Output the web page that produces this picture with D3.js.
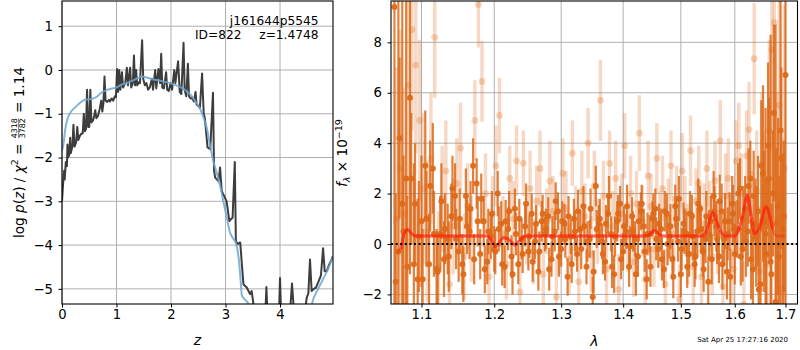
<!DOCTYPE html>
<html><head><meta charset="utf-8">
<script src="https://cdn.jsdelivr.net/npm/d3@7"></script>
<style>
body{margin:0;background:#fff}
svg{display:block}
text{font-family:"DejaVu Sans",sans-serif;fill:#000}
</style>
</head><body>
<svg id="c" width="800" height="350"></svg>
<script>
// ---------------- DATA ----------------
// left panel: log p(z)
const zGrid = [0.00,0.02,0.04,0.05,0.07,0.09,0.10,0.11,0.13,0.15,0.16,0.19,0.21,0.23,0.26,0.28,0.30,0.33,0.36,0.38,
0.40,0.42,0.44,0.46,0.48,0.50,0.52,0.54,0.57,0.59,0.61,0.63,0.66,0.69,0.72,0.74,0.76,0.78,0.80,0.83,
0.86,0.88,0.91,0.94,0.97,0.99,1.01,1.03,1.05,1.07,1.10,1.12,1.14,1.16,1.19,1.21,1.25,1.27,1.30,1.32,
1.34,1.36,1.38,1.41,1.43,1.47,1.49,1.52,1.55,1.58,1.61,1.65,1.67,1.71,1.73,1.77,1.80,1.82,1.84,1.87,
1.91,1.93,1.96,1.99,2.02,2.06,2.08,2.13,2.16,2.19,2.23,2.25,2.28,2.31,2.33,2.36,2.38,2.42,2.45,2.47,
2.53,2.57,2.60,2.62,2.67,2.72,2.77,2.79,2.81,2.87,2.90,2.93,2.96,3.02,3.07,3.13,3.17,3.19,3.22,3.27,
3.30,3.33,3.39,3.45,3.48,3.54,3.60,3.68,3.73,3.75,3.77,3.85,3.98,4.00,4.02,4.18,4.22,4.26,4.45,4.49,
4.52,4.55,4.58,4.62,4.66,4.70,4.75,4.79,4.82,4.86,4.90,4.94,4.97];
const logPz = [-3.0,-2.6,-2.3,-2.5,-2.1,-2.2,-1.7,-2.0,-1.95,-1.55,-1.9,-1.75,-1.25,-1.75,-1.65,-1.3,-1.6,-1.5,-1.45,-1.45,
-1.0,-1.4,-1.35,-0.45,-1.3,-1.3,-0.45,-1.2,-1.15,-1.05,-0.92,-1.1,-1.05,-0.9,-0.7,-0.95,-0.75,-0.15,-0.7,-0.73,
-0.68,-0.72,-0.65,-0.7,-0.6,-0.62,0.02,-0.5,0.0,-0.45,-0.05,-0.4,-0.35,-0.3,0.05,-0.35,0.05,-0.4,-0.3,0.33,
-0.35,0.0,-0.35,-0.28,-0.3,0.68,-0.2,-0.35,-0.3,-0.45,-0.4,-0.2,-0.45,0.0,-0.42,0.02,-0.3,0.37,-0.4,-0.42,
-0.05,-0.45,-0.48,-0.3,-0.45,0.0,-0.3,0.2,-0.5,-0.55,0.62,-0.45,-0.6,0.14,-0.6,-0.65,-0.63,-0.72,-0.5,-0.79,
-0.86,-0.08,-1.0,-1.09,-1.77,-1.81,-0.52,-2.3,-2.46,-2.54,-2.23,-2.76,-2.84,-3.0,-3.45,-3.37,-2.1,-3.9,-3.98,-3.94,
-4.44,-4.9,-4.97,-5.12,-5.05,-5.6,-5.5,-5.6,-5.6,-4.96,-5.6,-5.6,-5.6,-4.75,-5.6,-5.6,-4.88,-5.6,-5.6,-5.2,
-5.1,-4.33,-5.05,-5.0,-4.97,-4.85,-4.7,-4.07,-4.6,-4.59,-4.45,-4.35,-4.25];
// left panel: smooth prior curve
const zPrior = [0.00,0.025,0.06,0.10,0.15,0.20,0.27,0.35,0.42,0.50,0.58,0.65,0.72,0.82,0.90,1.00,1.10,1.19,1.30,1.40,
1.46,1.55,1.65,1.74,1.85,1.98,2.10,2.20,2.30,2.38,2.46,2.53,2.60,2.66,2.72,2.78,2.85,2.92,2.96,3.02,
3.08,3.14,3.19,3.25,3.28,3.30,3.40,3.48,4.55,4.62,4.70,4.80,4.88,4.97];
const logPrior = [-1.85,-1.7,-1.35,-1.12,-0.98,-0.9,-0.82,-0.73,-0.68,-0.67,-0.65,-0.6,-0.52,-0.46,-0.43,-0.40,-0.33,-0.30,-0.24,-0.18,
-0.15,-0.17,-0.21,-0.23,-0.26,-0.30,-0.35,-0.41,-0.50,-0.60,-0.74,-0.88,-1.1,-1.35,-1.75,-2.1,-2.4,-2.75,-3.0,-3.35,
-3.7,-3.85,-3.95,-4.4,-4.85,-5.15,-5.3,-5.45,-5.45,-5.2,-5.0,-4.75,-4.55,-4.25];

// right panel: spectrum A (dark)
const waveA = [1.065,1.070,1.075,1.080,1.085,1.090,1.095,1.100,1.105,1.110,
1.115,1.120,1.125,1.130,1.135,1.140,1.145,1.150,1.155,1.160,
1.165,1.170,1.175,1.180,1.185,1.190,1.195,1.200,1.205,1.210,
1.215,1.220,1.225,1.230,1.235,1.240,1.245,1.250,1.255,1.260,
1.265,1.270,1.275,1.280,1.285,1.290,1.295,1.300,1.305,1.310,
1.315,1.320,1.325,1.330,1.335,1.340,1.345,1.350,1.355,1.360,
1.365,1.370,1.375,1.380,1.385,1.390,1.395,1.400,1.405,1.410,
1.415,1.420,1.425,1.430,1.435,1.440,1.445,1.450,1.455,1.460,
1.465,1.470,1.475,1.480,1.485,1.490,1.495,1.500,1.505,1.510,
1.515,1.520,1.525,1.530,1.535,1.540,1.545,1.550,1.555,1.560,
1.565,1.570,1.575,1.580,1.585,1.590,1.595,1.600,1.605,1.610,
1.615,1.620,1.625,1.630,1.635,1.640,1.645,1.650,1.655,1.660,
1.665,1.670,1.675,1.680,1.685,1.690,1.695,1.700];
const fluxA = [9.4,-0.3,1.6,2.6,5.8,-0.8,-1.4,0.9,3.1,-0.8,
3.0,-1.0,0.4,-0.6,0.2,1.1,1.9,-0.3,-0.8,1.9,
0.5,3.1,2.4,-0.4,0.9,-0.7,0.3,-0.2,2.0,0.8,
-0.9,0.6,-0.5,1.4,-0.8,0.2,0.7,-0.3,1.2,0.1,
-1.1,0.9,0.4,1.1,-0.6,0.5,1.3,-0.2,0.8,-1.3,
0.3,1.0,-0.4,0.6,1.5,-0.9,0.2,-2.1,2.3,0.8,
0.1,-0.7,1.2,0.4,-1.2,0.9,1.6,-0.3,0.5,-0.9,
1.1,0.2,-0.5,1.3,0.7,-1.4,0.4,1.0,1.4,-0.2,
0.6,-1.0,1.2,0.3,-0.6,1.5,0.1,-1.2,0.8,0.4,
-0.4,1.1,-0.8,0.5,1.4,-0.3,0.2,-1.5,0.9,1.9,
0.7,-0.5,1.3,0.2,-1.1,0.9,1.6,-0.4,0.6,2.2,
-0.2,1.4,0.5,2.6,-1.0,0.8,1.3,-1.6,2.8,0.4,
3.9,-0.7,2.0,-2.3,1.5,4.5,0.6,6.7];
const errA = [12,10,9,8,7,4,3.2,2.6,2.2,2.0,
1.8,1.6,1.5,1.5,1.4,1.3,1.3,1.2,1.2,1.1,
1.1,1.1,1.0,1.0,1.0,0.9,0.9,0.9,0.9,0.9,
0.85,0.85,0.85,0.8,0.8,0.8,0.8,0.75,0.8,0.7,
0.75,0.8,0.7,0.75,0.7,0.8,0.75,0.7,0.8,0.75,
0.7,0.8,0.7,0.75,0.8,0.7,0.75,0.8,0.8,0.75,
0.7,0.75,0.8,0.7,0.75,0.8,0.7,0.75,0.7,0.8,
0.75,0.7,0.8,0.75,0.7,0.8,0.75,0.7,0.8,0.75,
0.8,0.75,0.8,0.85,0.8,0.85,0.8,0.9,0.85,0.9,
0.9,0.85,0.9,0.95,0.9,1.0,0.95,1.0,1.0,1.0,
1.0,1.05,1.1,1.05,1.1,1.15,1.1,1.2,1.15,1.2,
1.3,1.3,1.4,1.5,1.6,1.8,2.2,2.6,3.5,5.0,
3.3,9,2.5,11,3.5,12,3.0,14];

// right panel: spectrum C (dark, second exposure)
const waveC = [1.0665,1.0715,1.0765,1.0815,1.0865,1.0915,1.0965,1.1015,1.1065,1.1115,
1.1165,1.1215,1.1265,1.1315,1.1365,1.1415,1.1465,1.1515,1.1565,1.1615,
1.1665,1.1715,1.1765,1.1815,1.1865,1.1915,1.1965,1.2015,1.2065,1.2115,
1.2165,1.2215,1.2265,1.2315,1.2365,1.2415,1.2465,1.2515,1.2565,1.2615,
1.2665,1.2715,1.2765,1.2815,1.2865,1.2915,1.2965,1.3015,1.3065,1.3115,
1.3165,1.3215,1.3265,1.3315,1.3365,1.3415,1.3465,1.3515,1.3565,1.3615,
1.3665,1.3715,1.3765,1.3815,1.3865,1.3915,1.3965,1.4015,1.4065,1.4115,
1.4165,1.4215,1.4265,1.4315,1.4365,1.4415,1.4465,1.4515,1.4565,1.4615,
1.4665,1.4715,1.4765,1.4815,1.4865,1.4915,1.4965,1.5015,1.5065,1.5115,
1.5165,1.5215,1.5265,1.5315,1.5365,1.5415,1.5465,1.5515,1.5565,1.5615,
1.5665,1.5715,1.5765,1.5815,1.5865,1.5915,1.5965,1.6015,1.6065,1.6115,
1.6165,1.6215,1.6265,1.6315,1.6365,1.6415,1.6465,1.6515,1.6565,1.6615,
1.6665,1.6715,1.6765,1.6815,1.6865,1.6915,1.6965];
const fluxC = [-1.5,4.2,0.5,-0.9,2.6,1.6,0.3,-1.4,1.0,2.3,
0.4,-1.1,1.7,0.6,-0.5,2.2,0.2,1.0,-1.2,0.7,
1.4,-0.6,0.9,1.8,-1.0,0.5,1.2,-0.3,0.6,-0.8,
0.9,1.3,-1.2,0.4,1.0,-0.4,1.6,0.3,-0.7,0.8,
-0.3,1.2,0.6,-1.0,0.3,1.7,-0.5,0.9,0.2,1.1,
-0.8,0.5,1.3,-0.2,0.7,0.1,1.4,-1.1,0.6,1.0,
-0.4,0.8,1.9,-0.9,0.3,1.2,-0.6,0.7,1.5,-0.1,
0.5,-1.2,0.9,1.6,-0.3,0.4,-0.9,1.2,0.2,0.8,
-0.6,1.3,0.0,0.7,-1.3,1.0,1.8,-0.2,0.5,-0.9,
1.2,0.3,-0.5,1.6,0.6,-1.0,1.1,0.4,-0.6,1.3,
0.2,1.7,-0.8,0.9,0.4,-1.3,1.2,0.6,2.0,-0.5,
1.0,0.1,2.3,-0.6,1.9,0.3,-1.8,3.1,0.9,-0.4,
2.6,-1.2,5.2,0.8,-0.5,3.4,1.1];
const errC = [3.5,3.2,3.0,2.8,2.6,2.4,2.2,2.0,1.9,1.8,
1.7,1.6,1.5,1.4,1.4,1.3,1.2,1.2,1.1,1.1,
1.1,1.0,1.0,1.0,0.95,0.9,0.9,0.9,0.9,0.85,
0.85,0.8,0.8,0.85,0.8,0.75,0.8,0.85,0.8,0.75,
0.8,0.75,0.8,0.85,0.8,0.75,0.8,0.8,0.75,0.8,
0.75,0.8,0.85,0.8,0.75,0.8,0.8,0.85,0.75,0.8,
0.8,0.75,0.8,0.85,0.8,0.75,0.8,0.8,0.85,0.8,
0.8,0.85,0.8,0.75,0.8,0.85,0.8,0.8,0.85,0.8,
0.85,0.8,0.85,0.9,0.85,0.8,0.9,0.85,0.9,0.85,
0.9,0.95,0.9,1.0,0.95,0.9,1.0,0.95,1.0,1.0,
1.0,1.05,1.0,1.1,1.05,1.1,1.15,1.1,1.2,1.15,
1.3,1.4,1.5,1.6,1.8,2.0,2.3,2.6,2.8,3.0,
3.2,2.8,3.5,3.0,3.2,3.6,3.0];

// right panel: spectrum B (light)
const waveB = [1.0675,1.0725,1.0775,1.0825,1.0875,1.0925,1.0975,1.1025,1.1075,1.1125,
1.1175,1.1225,1.1275,1.1325,1.1375,1.1425,1.1475,1.1525,1.1575,1.1625,
1.1675,1.1725,1.1775,1.1825,1.1875,1.1925,1.1975,1.2025,1.2075,1.2125,
1.2175,1.2225,1.2275,1.2325,1.2375,1.2425,1.2475,1.2525,1.2575,1.2625,
1.2675,1.2725,1.2775,1.2825,1.2875,1.2925,1.2975,1.3025,1.3075,1.3125,
1.3175,1.3225,1.3275,1.3325,1.3375,1.3425,1.3475,1.3525,1.3575,1.3625,
1.3675,1.3725,1.3775,1.3825,1.3875,1.3925,1.3975,1.4025,1.4075,1.4125,
1.4175,1.4225,1.4275,1.4325,1.4375,1.4425,1.4475,1.4525,1.4575,1.4625,
1.4675,1.4725,1.4775,1.4825,1.4875,1.4925,1.4975,1.5025,1.5075,1.5125,
1.5175,1.5225,1.5275,1.5325,1.5375,1.5425,1.5475,1.5525,1.5575,1.5625,
1.5675,1.5725,1.5775,1.5825,1.5875,1.5925,1.5975,1.6025,1.6075,1.6125,
1.6175,1.6225,1.6275,1.6325,1.6375,1.6425,1.6475,1.6525,1.6575,1.6625,
1.6675,1.6725,1.6775,1.6825,1.6875,1.6925,1.6975];
const fluxB = [1.0,3.0,1.2,6.3,8.5,7.1,4.9,2.2,0.5,3.4,
8.2,-0.9,1.8,2.9,-1.6,0.7,2.4,3.8,-0.5,1.5,
0.2,4.9,9.5,6.45,2.0,-1.3,1.2,3.1,5.1,0.4,
-0.8,2.6,1.0,3.3,-1.9,3.2,0.6,2.2,-0.3,1.7,
3.0,-1.2,0.9,2.5,1.3,-2.1,0.1,2.8,1.4,-0.6,
3.6,0.8,-1.5,2.1,1.1,4.0,-0.4,2.3,0.5,5.7,
1.9,-1.0,3.2,0.7,2.6,-1.8,1.2,3.9,0.3,2.0,
-0.7,1.6,4.4,0.9,-1.4,2.7,1.5,-0.2,3.4,0.6,
2.2,-1.6,1.0,3.1,0.4,1.8,-2.2,2.9,1.3,0.0,
3.7,-0.9,1.7,2.4,-1.3,0.8,3.0,1.1,-0.5,2.5,
0.3,4.1,-1.7,1.9,2.6,0.5,-1.0,3.3,3.9,2.0,
-2.4,3.5,4.54,0.9,7.35,2.1,-1.1,3.2,1.5,-0.8,
4.5,7.7,8.78,1.0,5.5,-1.8,3.0];
const errB = [6,5.5,5,4.5,4,3.5,3.2,3.0,2.8,2.6,
2.4,2.2,2.1,2.0,1.9,1.9,1.8,1.8,1.7,1.7,
1.7,1.6,1.7,1.6,1.6,1.5,1.5,1.6,1.5,1.5,
1.4,1.3,1.5,1.4,1.6,1.3,1.4,1.5,1.3,1.4,
1.5,1.4,1.3,1.6,1.4,1.5,1.3,1.4,1.5,1.4,
1.3,1.5,1.4,1.6,1.3,1.4,1.5,1.4,1.3,1.6,
1.4,1.5,1.3,1.4,1.5,1.4,1.6,1.3,1.4,1.5,
1.4,1.3,1.5,1.4,1.6,1.4,1.3,1.5,1.4,1.5,
1.3,1.4,1.6,1.4,1.5,1.3,1.4,1.5,1.4,1.6,
1.4,1.5,1.3,1.5,1.4,1.6,1.5,1.4,1.5,1.6,
1.5,1.6,1.5,1.7,1.6,1.5,1.7,1.6,1.7,1.6,
1.7,1.8,1.9,2.0,2.2,2.4,2.6,2.8,3.0,3.3,
3.6,4.0,4.5,5.0,5.5,6.0,6.5];

// right panel: model
const modelWave = [1.068,1.073,1.078,1.082,1.086,1.090,1.096,1.190,1.196,1.201,1.206,1.213,1.220,1.226,1.230,1.236,1.245,
1.440,1.447,1.453,1.460,1.467,1.540,1.548,1.554,1.559,1.564,1.572,1.582,1.600,1.608,1.616,1.621,1.624,1.628,
1.634,1.638,1.644,1.652,1.658,1.662,1.667,1.674,1.682,1.700];
const modelFlux = [-0.35,-0.2,0.45,0.58,0.45,0.34,0.32,0.32,0.15,-0.1,0.0,0.25,0.2,0.05,-0.04,0.1,0.32,
0.32,0.42,0.55,0.42,0.32,0.32,0.6,1.05,1.25,1.0,0.55,0.32,0.32,0.6,1.2,1.75,1.94,1.6,
0.8,0.42,0.5,0.9,1.4,1.48,1.2,0.6,0.32,0.32];

// ticks and texts
const zTicks = [0,1,2,3,4];
const pTicks = [-5,-4,-3,-2,-1,0,1];
const lamTicks = [1.1,1.2,1.3,1.4,1.5,1.6,1.7];
const fTicks = [-2,0,2,4,6,8];
const titleLines = ["j161644p5545"];
const idText = "ID=822", zText = "z=1.4748";
const chiNum = "4318", chiDen = "3782", chiVal = "1.14";
const stamp = "Sat Apr 25 17:27:16 2020";

// ---------------- DRAW ----------------
const svg = d3.select("#c");
const TICKFS = 13.2;
const gridCol = "#b0b0b0";
const orange = "#dd6a1a";

const L = {x0:62, x1:333, y0:1, y1:304};
const R = {x0:391, x1:797.5, y0:1, y1:304};

const xz = d3.scaleLinear().domain([0,4.972]).range([L.x0,L.x1]);
const yp = d3.scaleLinear().domain([-5.346,1.576]).range([L.y1,L.y0]);
const xl = d3.scaleLog().domain([1.0606,1.7246]).range([R.x0,R.x1]);
const yf = d3.scaleLinear().domain([-2.38,9.64]).range([R.y1,R.y0]);

const defs = svg.append("defs");
defs.append("clipPath").attr("id","clipL").append("rect")
  .attr("x",L.x0).attr("y",L.y0).attr("width",L.x1-L.x0).attr("height",L.y1-L.y0);
defs.append("clipPath").attr("id","clipR").append("rect")
  .attr("x",R.x0).attr("y",R.y0).attr("width",R.x1-R.x0).attr("height",R.y1-R.y0);

function grid(P, xs, ys, xt, yt){
  const g = svg.append("g").attr("stroke",gridCol).attr("stroke-width",1);
  g.selectAll(".gx").data(xt).join("line")
    .attr("x1",d=>xs(d)).attr("x2",d=>xs(d)).attr("y1",P.y0).attr("y2",P.y1);
  g.selectAll(".gy").data(yt).join("line")
    .attr("y1",d=>ys(d)).attr("y2",d=>ys(d)).attr("x1",P.x0).attr("x2",P.x1);
}
grid(L, xz, yp, zTicks, pTicks);
grid(R, xl, yf, lamTicks, fTicks);

// ---- left panel curves
const gl = svg.append("g").attr("clip-path","url(#clipL)");
const pzData = zGrid.map((z,i)=>[z,logPz[i]]);
const prData = zPrior.map((z,i)=>[z,logPrior[i]]);
gl.append("path").datum(pzData)
  .attr("d", d3.line().x(d=>xz(d[0])).y(d=>yp(d[1])))
  .attr("fill","none").attr("stroke","#333").attr("stroke-opacity",0.95)
  .attr("stroke-width",2).attr("stroke-linejoin","round");
gl.append("path").datum(prData)
  .attr("d", d3.line().curve(d3.curveMonotoneX).x(d=>xz(d[0])).y(d=>yp(d[1])))
  .attr("fill","none").attr("stroke","#6fa6d3").attr("stroke-opacity",0.85)
  .attr("stroke-width",2);

// ---- right panel spectra
const gr = svg.append("g").attr("clip-path","url(#clipR)");
function errSet(w, f, e, opts){
  const pts = w.map((x,i)=>({w:x, f:f[i], e:e[i]}));
  const g = gr.append("g");
  g.selectAll("line").data(pts).join("line")
    .attr("x1",d=>xl(d.w)).attr("x2",d=>xl(d.w))
    .attr("y1",d=>yf(d.f-d.e)).attr("y2",d=>yf(d.f+d.e))
    .attr("stroke",orange).attr("stroke-opacity",opts.ba).attr("stroke-width",opts.bw);
  g.selectAll("circle").data(pts).join("circle")
    .attr("cx",d=>xl(d.w)).attr("cy",d=>yf(d.f)).attr("r",opts.r)
    .attr("fill",orange).attr("fill-opacity",opts.ma);
}
errSet(waveB, fluxB, errB, {ba:0.26, bw:3.4, r:3.4, ma:0.28});
errSet(waveA, fluxA, errA, {ba:0.85, bw:2.2, r:3.0, ma:0.95});
errSet(waveC, fluxC, errC, {ba:0.85, bw:2.2, r:3.0, ma:0.95});

const mData = modelWave.map((w,i)=>[w,modelFlux[i]]);
const mLine = d3.line().curve(d3.curveMonotoneX).x(d=>xl(d[0])).y(d=>yf(d[1]));
gr.append("path").datum(mData).attr("d",mLine)
  .attr("fill","none").attr("stroke","#ff1a0a").attr("stroke-opacity",0.35).attr("stroke-width",3);
gr.append("path").datum(mData.slice(1,43)).attr("d",mLine)
  .attr("fill","none").attr("stroke","#ff1a0a").attr("stroke-opacity",0.5).attr("stroke-width",3);

gr.append("line").attr("x1",R.x0).attr("x2",R.x1).attr("y1",yf(0)).attr("y2",yf(0))
  .attr("stroke","#000").attr("stroke-width",2).attr("stroke-dasharray","2,2.6");

// ---- axes
function axes(P, xs, ys, xt, yt, xfmt, yfmt){
  const ax = svg.append("g").attr("transform",`translate(0,${P.y1})`)
    .call(d3.axisBottom(xs).tickValues(xt).tickFormat(xfmt).tickSize(3.5).tickSizeOuter(0).tickPadding(2));
  const ay = svg.append("g").attr("transform",`translate(${P.x0},0)`)
    .call(d3.axisLeft(ys).tickValues(yt).tickFormat(yfmt).tickSize(3.5).tickSizeOuter(0).tickPadding(5.5));
  [ax,ay].forEach(a=>{
    a.select(".domain").remove();
    a.selectAll("text").attr("font-size",TICKFS).attr("font-family","DejaVu Sans").attr("fill","#000");
    a.selectAll("line").attr("stroke","#000");
  });
  svg.append("rect").attr("x",P.x0).attr("y",P.y0).attr("width",P.x1-P.x0).attr("height",P.y1-P.y0)
    .attr("fill","none").attr("stroke","#000").attr("stroke-width",1.1);
}
axes(L, xz, yp, zTicks, pTicks, d3.format("d"), d3.format("d"));
axes(R, xl, yf, lamTicks, fTicks, d3.format(".1f"), d3.format("d"));

// ---- annotation
svg.append("text").attr("x",318.5).attr("y",24.5).attr("text-anchor","end")
  .attr("font-size",12.2).text(titleLines[0]);
svg.append("text").attr("x",195).attr("y",39).attr("font-size",12.2).text(idText);
svg.append("text").attr("x",318.5).attr("y",39).attr("text-anchor","end").attr("font-size",12.2).text(zText);

// ---- x labels
svg.append("text").attr("x",197.5).attr("y",345).attr("text-anchor","middle")
  .attr("font-size",14).attr("font-style","italic").text("z");
svg.append("text").attr("x",594.5).attr("y",346).attr("text-anchor","middle")
  .attr("font-size",14).attr("font-style","italic").text("λ");

// ---- left y label
(function(){
  const fs = 13.6;
  const g = svg.append("g");
  const t = g.append("text").attr("font-size",fs);
  t.append("tspan").text("log\u00a0");
  t.append("tspan").attr("font-style","italic").text("p");
  t.append("tspan").text("(");
  t.append("tspan").attr("font-style","italic").text("z");
  t.append("tspan").text(")\u00a0/\u00a0");
  t.append("tspan").attr("font-style","italic").text("χ");
  t.append("tspan").attr("font-size",fs*0.7).attr("dy",-fs*0.42).text("2");
  t.append("tspan").attr("dy",fs*0.42).text("\u00a0=\u00a0");
  const w1 = t.node().getComputedTextLength();
  const ffs = 7.8;
  const num = g.append("text").attr("font-size",ffs).attr("x",w1+1).attr("y",-6.1).text(chiNum);
  const den = g.append("text").attr("font-size",ffs).attr("x",w1+1).attr("y",1.5).text(chiDen);
  const fw = Math.max(num.node().getComputedTextLength(), den.node().getComputedTextLength());
  num.attr("x", w1+1 + (fw-num.node().getComputedTextLength())/2);
  g.append("line").attr("x1",w1+1).attr("x2",w1+1+fw).attr("y1",-4.9).attr("y2",-4.9)
    .attr("stroke","#000").attr("stroke-width",0.5);
  const t2 = g.append("text").attr("font-size",fs).attr("x",w1+fw+2).attr("y",0).text("\u00a0=\u00a0"+chiVal);
  const T = w1 + fw + 2 + t2.node().getComputedTextLength();
  g.attr("transform",`translate(23.5,${152.5+T/2}) rotate(-90)`);
})();

// ---- right y label
(function(){
  const fs = 13.6;
  const g = svg.append("g");
  const t = g.append("text").attr("font-size",fs);
  t.append("tspan").attr("font-style","italic").text("f");
  t.append("tspan").attr("font-size",fs*0.7).attr("font-style","italic").attr("dy",3).text("λ");
  t.append("tspan").attr("dy",-3).text("\u00a0×\u00a010");
  t.append("tspan").attr("font-size",fs*0.7).attr("dy",-5.5).text("−19");
  const T = t.node().getComputedTextLength();
  g.attr("transform",`translate(347,${153+T/2}) rotate(-90)`);
})();

// ---- timestamp
svg.append("text").attr("x",788).attr("y",342).attr("text-anchor","end")
  .attr("font-size",7).text(stamp);
</script>
</body></html>
